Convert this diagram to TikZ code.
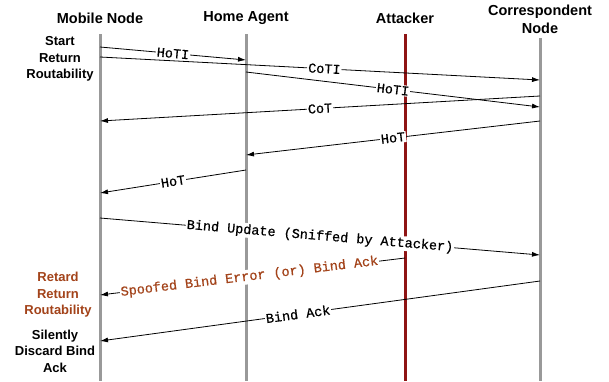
\documentclass[tikz,border=0pt]{standalone}
\usepackage{fontspec}
\setmainfont{Liberation Sans}
\newfontfamily\msgfont[FakeBold=0.6]{Liberation Mono}
\usetikzlibrary{arrows.meta}
\definecolor{rust}{HTML}{A3431A}
\definecolor{attred}{HTML}{8E1414}
\definecolor{lifegray}{HTML}{999999}
\tikzset{
  head/.style={font=\bfseries\fontsize{14.5}{18}\selectfont, align=center, inner sep=0pt},
  side/.style={font=\bfseries\fontsize{13}{16.5}\selectfont, align=center, inner sep=0pt},
  life/.style={lifegray, line width=3pt},
  attlife/.style={attred, line width=3pt},
  msg/.style={-{Latex[length=8pt,width=5pt]}, line width=0.8pt},
  lbl/.style={sloped, fill=white, inner sep=1pt, font=\msgfont\fontsize{13.5}{13.5}\selectfont},
}
\begin{document}
\begin{tikzpicture}[x=1pt,y=-1pt]
\useasboundingbox[fill=white] (0,0) rectangle (609,381);
% headers
\node[head] (hmn) at (100,18) {Mobile Node};
\node[head] (hha) at (246,18) {Home Agent};
\node[head] (hat) at (405,18) {Attacker};
\node[head] (hcn) at (540,19) {Correspondent\\Node};
% lifelines
\coordinate (mnT) at (100,34); \coordinate (mnB) at (100,381);
\coordinate (haT) at (246,34); \coordinate (haB) at (246,381);
\coordinate (atT) at (405,34); \coordinate (atB) at (405,381);
\coordinate (cnT) at (540,38); \coordinate (cnB) at (540,381);
\draw[life] (mnT) -- (mnB);
\draw[life] (haT) -- (haB);
\draw[attlife] (atT) -- (atB);
\draw[life] (cnT) -- (cnB);
% side notes
\node[side] (n1) at (60,59) {Start\\Return\\Routability};
\node[side, text=rust] (n2) at (58,295) {Retard\\Return\\Routability};
\node[side] (n3) at (55,351) {Silently\\Discard Bind\\Ack};
% message end points
\coordinate (m1a) at (100,47);  \coordinate (m1b) at (246,60);
\coordinate (m2a) at (100,57);  \coordinate (m2b) at (540,80);
\coordinate (m3a) at (246,72);  \coordinate (m3b) at (540,107);
\coordinate (m4a) at (540,96);  \coordinate (m4b) at (100,121);
\coordinate (m5a) at (540,121); \coordinate (m5b) at (246,155);
\coordinate (m6a) at (246,170); \coordinate (m6b) at (100,193);
\coordinate (m7a) at (100,218); \coordinate (m7b) at (540,255);
\coordinate (m8a) at (405,258); \coordinate (m8b) at (100,295);
\coordinate (m9a) at (540,281); \coordinate (m9b) at (100,341);
% messages
\draw[msg] (m1a) -- node[lbl] {HoTI} (m1b);
\draw[msg] (m2a) -- node[lbl, pos=0.51] {CoTI} (m2b);
\draw[msg] (m3a) -- node[lbl] {HoTI} (m3b);
\draw[msg] (m4a) -- node[lbl] {CoT} (m4b);
\draw[msg] (m5a) -- node[lbl] {HoT} (m5b);
\draw[msg] (m6a) -- node[lbl] {HoT} (m6b);
\draw[msg] (m7a) -- node[lbl] {Bind Update (Sniffed by Attacker)} (m7b);
\draw[msg] (m8a) -- node[lbl, pos=0.51, text=rust] {Spoofed Bind Error (or) Bind Ack} (m8b);
\draw[msg] (m9a) -- node[lbl, pos=0.55] {Bind Ack} (m9b);
\end{tikzpicture}
\end{document}
